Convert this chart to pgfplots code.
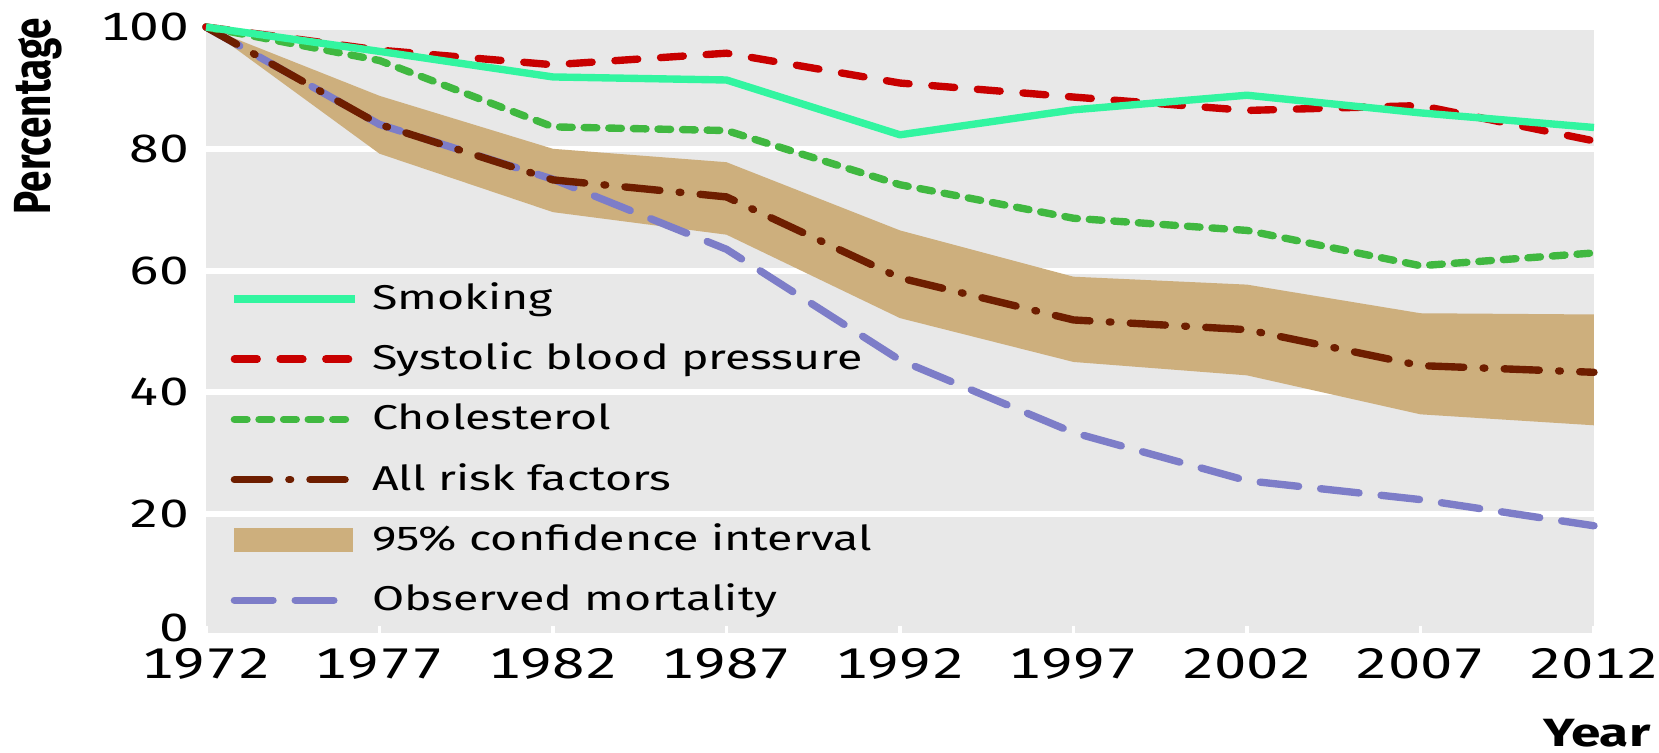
\documentclass[border=0pt]{standalone}
\usepackage{fontspec}
\setmainfont{Fira Sans}[FakeStretch=1.35]
\newfontfamily\plainfont{Fira Sans}
\newfontfamily\tickfont{Fira Sans}[FakeStretch=1.35, Numbers=Monospaced]
\usepackage{pgfplots}
\pgfplotsset{compat=1.18}
\usepgfplotslibrary{fillbetween}

\definecolor{smkcol}{RGB}{50,245,160}
\definecolor{sbpcol}{RGB}{200,0,0}
\definecolor{cholcol}{RGB}{64,184,64}
\definecolor{allcol}{RGB}{110,30,0}
\definecolor{cicol}{RGB}{205,175,125}
\definecolor{obscol}{RGB}{125,125,200}
\definecolor{bgcol}{RGB}{232,232,232}

\pgfplotsset{
  smk/.style={smkcol, line width=2.1pt, line join=round},
  sbp/.style={sbpcol, line width=2.1pt, line cap=round, dash pattern=on 6.5pt off 6.5pt},
  chol/.style={cholcol, line width=2.1pt, line cap=round, dash pattern=on 3.6pt off 3.4pt},
  allrf/.style={allcol, line width=2.1pt, line cap=round, dash pattern=on 10pt off 5.5pt on 0.5pt off 5.5pt},
  obs/.style={obscol, line width=2.1pt, line cap=round, dash pattern=on 11pt off 6.3pt},
}

% year, smoking, sbp, cholesterol, all risk factors, ci upper, ci lower, observed
\pgfplotstableread{
year smk  sbp  chol allrf ciup cilo obs
1972 100  100  100  100   100  100  100
1977 96.0 96.2 94.5 84.0  88.7 79.2 84.0
1982 91.8 93.8 83.6 74.9  80.0 69.6 75.0
1987 91.3 95.7 83.0 72.1  77.8 65.9 63.5
1992 82.3 90.8 74.1 58.8  66.6 52.2 45.3
1997 86.4 88.5 68.6 51.9  59.0 45.0 33.4
2002 88.8 86.3 66.6 50.3  57.7 42.8 25.5
2007 85.9 87.1 60.8 44.4  53.0 36.4 22.4
2012 83.5 81.3 62.9 43.3  52.8 34.6 18.1
}\mortdata

\begin{document}
\begin{tikzpicture}
\begin{axis}[
  at={(0,0)}, anchor=south west,
  width=13.88cm, height=6.09cm, scale only axis,
  xmin=1972, xmax=2012, ymin=0, ymax=100,
  xtick={1972,1977,...,2012}, ytick={0,20,...,100},
  yticklabels={\raisebox{0.16cm}{0},20,40,60,80,100},
  axis background/.style={fill=bgcol},
  axis line style={draw=none},
  ymajorgrids, grid style={white, line width=1.7pt},
  tick align=inside, tick pos=lower,
  major tick length=0.1cm,
  xtick style={white, line width=1pt},
  ytick style={draw=none},
  /pgf/number format/assume math mode=true,
  /pgf/number format/1000 sep={},
  ticklabel style={inner sep=0pt},
  yticklabel style={xshift=-0.16cm, font=\tickfont\fontsize{11.2}{13}\selectfont},
  xticklabel style={yshift=-0.12cm, font=\tickfont\fontsize{12.2}{14}\selectfont},
  clip=false,
  legend image code/.code={\draw[#1] (0cm,0cm) -- (1.21cm,0cm); \path (1.34cm,0cm);},
  legend cell align=left,
  legend style={draw=none, fill=none, at={(0,0)}, anchor=south west,
    xshift=0.24cm, yshift=0.14cm, inner sep=0pt, row sep=0.181cm,
    nodes={inner sep=0pt, text height=9pt, text depth=3pt},
    font=\fontsize{9.8}{12}\selectfont},
]
\addplot[name path=ciup, draw=none, forget plot] table[x=year, y=ciup] {\mortdata};
\addplot[name path=cilo, draw=none, forget plot] table[x=year, y=cilo] {\mortdata};
\addplot[fill=cicol, draw=none, forget plot] fill between[of=ciup and cilo];
\addplot[obs, forget plot] table[x=year, y=obs] {\mortdata};
\addplot[allrf, forget plot] table[x=year, y=allrf] {\mortdata};
\addplot[chol, forget plot] table[x=year, y=chol] {\mortdata};
\addplot[sbp, forget plot] table[x=year, y=sbp] {\mortdata};
\addplot[smk, forget plot] table[x=year, y=smk] {\mortdata};

\addlegendimage{smk}
\addlegendentry{Smoking}
\addlegendimage{sbp}
\addlegendentry{Systolic blood pressure}
\addlegendimage{chol}
\addlegendentry{Cholesterol}
\addlegendimage{allrf}
\addlegendentry{All risk factors}
\addlegendimage{legend image code/.code={\fill[cicol] (0cm,-0.115cm) rectangle (1.18cm,0.115cm); \path (1.34cm,0cm);}}
\addlegendentry{95\% confidence interval}
\addlegendimage{obs}
\addlegendentry{Observed mortality}
\end{axis}
\node[rotate=90, inner sep=0pt, font=\plainfont\bfseries\fontsize{11}{13}\selectfont] at (-1.68cm,5.2cm) {\scalebox{1}[1.35]{Percentage}};
\node[anchor=east, inner sep=0pt, font=\bfseries\fontsize{11.2}{13}\selectfont] at (14.45cm,-0.97cm) {Year};
\path (-2.06cm,-1.16cm) rectangle (14.53cm,6.36cm);
\end{tikzpicture}
\end{document}
